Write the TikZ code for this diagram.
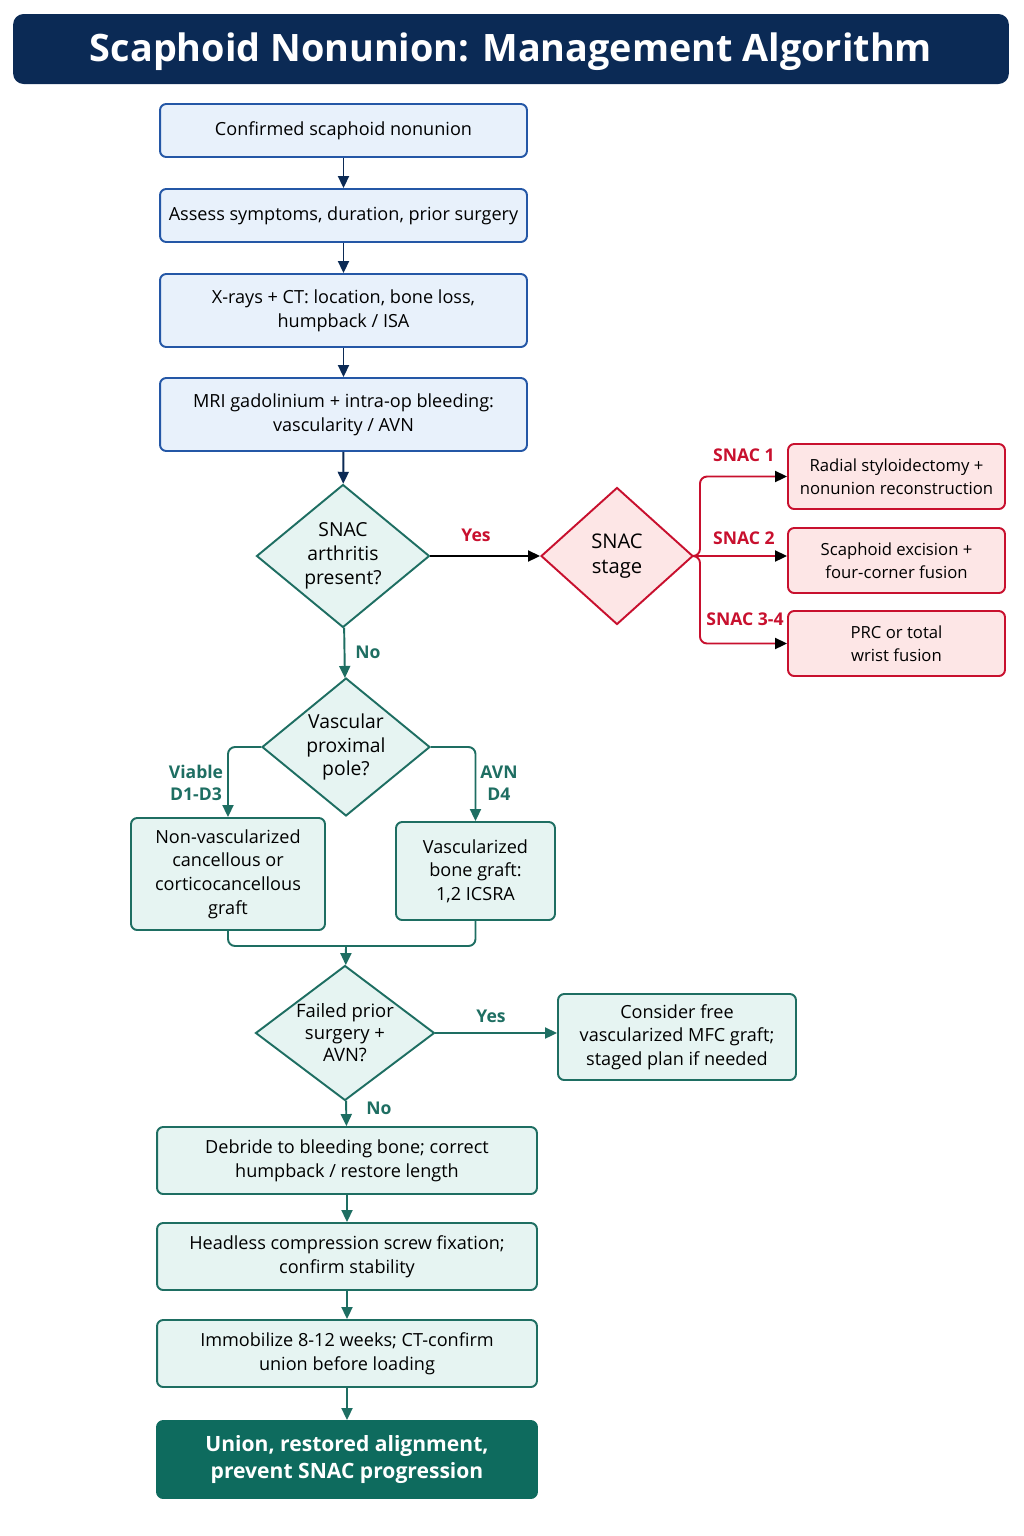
\documentclass[tikz,border=0pt]{standalone}
\usepackage{fontspec}
\setmainfont{Open Sans}
\usetikzlibrary{shapes.geometric,arrows.meta}
\definecolor{navy}{HTML}{0B2A55}
\definecolor{boxblue}{HTML}{2457A6}
\definecolor{fillblue}{HTML}{E8F1FB}
\definecolor{teal}{HTML}{1E6E62}
\definecolor{fillteal}{HTML}{E6F4F2}
\definecolor{darkteal}{HTML}{0E6B5E}
\definecolor{snacred}{HTML}{C8102E}
\definecolor{fillred}{HTML}{FDE6E6}
\begin{document}
\begin{tikzpicture}[x=0.02cm,y=-0.02cm,line width=1.1pt,
bluebox/.style={draw=boxblue,fill=fillblue,rounded corners=3.5pt,align=center,minimum width=7.34cm,inner sep=2pt,font=\fontsize{10.3}{13.5}\selectfont},
tealbox/.style={draw=teal,fill=fillteal,rounded corners=3.5pt,align=center,inner sep=2pt,font=\fontsize{10.3}{13.5}\selectfont},
redbox/.style={draw=snacred,fill=fillred,rounded corners=3.5pt,align=center,minimum width=4.34cm,minimum height=1.3cm,inner sep=2pt,font=\fontsize{9.5}{13}\selectfont},
tealdia/.style={diamond,draw=teal,fill=fillteal,align=center,inner sep=0pt,font=\fontsize{11}{13.5}\selectfont},
reddia/.style={diamond,draw=snacred,fill=fillred,align=center,inner sep=0pt,font=\fontsize{11.5}{14}\selectfont},
arr/.style={-{Triangle[length=2.4mm,width=2.2mm]}},
lab/.style={font=\fontsize{10}{12.5}\selectfont\bfseries,align=center}]

\useasboundingbox (0,0) rectangle (1024,1536);

% title
\node[fill=navy,rounded corners=6pt,minimum width=19.92cm,minimum height=1.4cm] (T) at (511,49) {};
\node[text=white,font=\fontsize{21.5}{24}\selectfont\bfseries] (Tt) at (511,52) {Scaphoid Nonunion: Management Algorithm};

% work-up
\node[bluebox,minimum height=1.06cm] (A) at (343.5,130.5) {Confirmed scaphoid nonunion};
\node[bluebox,minimum height=1.06cm] (B) at (343.5,215.5) {Assess symptoms, duration, prior surgery};
\node[bluebox,minimum height=1.46cm] (C) at (343.5,310.5) {X-rays + CT: location, bone loss,\\humpback / ISA};
\node[bluebox,minimum height=1.46cm] (D) at (343.5,414.5) {MRI gadolinium + intra-op bleeding:\\vascularity / AVN};

\draw [arr,navy] (A) -- (B);
\draw [arr,navy] (B) -- (C);
\draw [arr,navy] (C) -- (D);

% SNAC
\node[tealdia,aspect=1.21,minimum width=3.46cm,minimum height=2.86cm] (S) at (343,556) {SNAC\\arthritis\\present?};
\node[reddia,aspect=1.1,minimum width=3.04cm,minimum height=2.74cm] (G) at (617,556) {SNAC\\stage};
\draw [arr,navy] (D) -- (S);
\path (S) edge [arr,black] (G);
\node[lab,text=snacred] (yes1) at (476,535) {Yes};

\node[redbox] (R1) at (896.5,476.5) {Radial styloidectomy +\\nonunion reconstruction};
\node[redbox] (R2) at (896.5,560.5) {Scaphoid excision +\\four-corner fusion};
\node[redbox] (R3) at (896.5,643.5) {PRC or total\\wrist fusion};

\draw [snacred,rounded corners=4pt,-{Triangle[length=2.4mm,width=2.2mm,black]}] (G.east) -- (700,556) |- (R1.west);
\draw [snacred,-{Triangle[length=2.4mm,width=2.2mm,black]}] (G.east) -- (R2.west |- G.east);
\draw [snacred,rounded corners=4pt,-{Triangle[length=2.4mm,width=2.2mm,black]}] (G.east) -- (700,556) |- (R3.west);
\node[lab,text=snacred] (s1) at (744,455) {SNAC 1};
\node[lab,text=snacred] (s2) at (744,538) {SNAC 2};
\node[lab,text=snacred] (s3) at (745,619) {SNAC 3-4};

% vascularity
\node[tealdia,aspect=1.22,minimum width=3.36cm,minimum height=2.76cm] (V) at (346,747) {Vascular\\proximal\\pole?};
\path (S) edge [arr,teal] (V);
\node[lab,text=teal] (no1) at (368,652) {No};

\node[tealbox,minimum width=3.88cm,minimum height=2.24cm] (L) at (228,874) {Non-vascularized\\cancellous or\\corticocancellous\\graft};
\node[tealbox,minimum width=3.18cm,minimum height=1.96cm] (R) at (475.5,871) {Vascularized\\bone graft:\\1,2 ICSRA};

\draw [arr,teal,rounded corners=4pt] (V.west) -| (L.north);
\draw [arr,teal,rounded corners=4pt] (V.east) -| (R.north);
\node[lab,text=teal] (via) at (196,783) {Viable\\D1-D3};
\node[lab,text=teal] (avn) at (499,783) {AVN\\D4};

\coordinate (M) at (346,946);
\draw [teal,rounded corners=4pt] (L.south) |- (M) -| (R.south);

% failed surgery
\node[tealdia,aspect=1.33,minimum width=3.58cm,minimum height=2.7cm,font=\fontsize{10.5}{12.5}\selectfont] (F) at (345,1033) {Failed prior\\surgery +\\AVN?};
\draw [arr,teal] (M) -- (F);
\node[tealbox,minimum width=4.76cm,minimum height=1.72cm] (MFC) at (677,1037) {Consider free\\vascularized MFC graft;\\staged plan if needed};
\draw [arr,teal] (F.east) -- (F.east -| MFC.west);
\node[lab,text=teal] (yes2) at (491,1016) {Yes};

% fixation
\node[tealbox,minimum width=7.6cm,minimum height=1.34cm] (E) at (347,1160.5) {Debride to bleeding bone; correct\\humpback / restore length};
\node[tealbox,minimum width=7.6cm,minimum height=1.34cm] (H) at (347,1256.5) {Headless compression screw fixation;\\confirm stability};
\node[tealbox,minimum width=7.6cm,minimum height=1.34cm] (I) at (347,1353.5) {Immobilize 8-12 weeks; CT-confirm\\union before loading};
\node[draw=darkteal,fill=darkteal,rounded corners=3.5pt,align=center,minimum width=7.6cm,minimum height=1.54cm,text=white,font=\fontsize{12}{15.5}\selectfont\bfseries] (U) at (347,1459.5) {Union, restored alignment,\\prevent SNAC progression};

\path (F) edge [arr,teal] (E);
\node[lab,text=teal] (no2) at (379,1108) {No};
\draw [arr,teal] (E) -- (H);
\draw [arr,teal] (H) -- (I);
\draw [arr,teal] (I) -- (U);
\end{tikzpicture}
\end{document}
